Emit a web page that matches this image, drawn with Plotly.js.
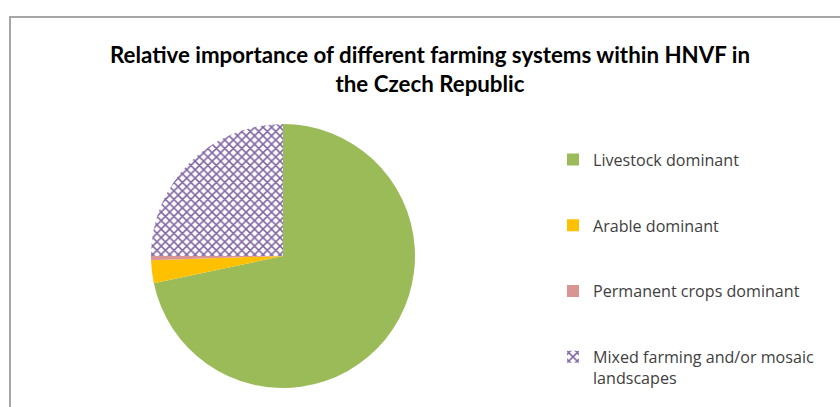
<!DOCTYPE html>
<html><head><meta charset="utf-8">
<script src="https://cdn.plot.ly/plotly-3.0.1.min.js"></script>
<style>html,body{margin:0;padding:0;background:#fff}#chart{width:840px;height:407px}</style>
</head><body><div id="chart"></div>
<script>
const categories = ["Livestock dominant", "Arable dominant", "Permanent crops dominant", "Mixed farming and/or mosaic<br>landscapes"];
const shares = [71.7, 2.8, 0.5, 25.0];
const colors = ["#9BBB59", "#FFC000", "#D99594", "#FFFFFF"];
const patterns = ["", "", "", "x"];
const titleText = "Relative importance of different farming systems within HNVF in<br>the Czech Republic";

const W = 840, H = 407;
const px = v => v / W, py = v => 1 - v / H;

const legendLabels = categories.map((c, i) => i < categories.length - 1 ? c + "<br>&nbsp;<br>&nbsp;" : c);

const trace = {
  type: "pie",
  labels: legendLabels,
  values: shares,
  sort: false,
  direction: "clockwise",
  rotation: 0,
  textinfo: "none",
  hoverinfo: "none",
  marker: {
    colors: colors,
    line: {width: 0},
    pattern: {shape: patterns, fgcolor: "#8064A2", bgcolor: "#FFFFFF", size: 6, solidity: 0.45}
  },
  domain: {x: [px(151), px(415)], y: [py(388), py(124)]}
};

const layout = {
  width: W, height: H,
  margin: {l: 0, r: 0, t: 0, b: 0},
  paper_bgcolor: "#fff",
  font: {family: "'Open Sans', Lato, sans-serif", color: "#404040"},
  title: {text: titleText, x: px(430), xref: "container", xanchor: "center", y: py(63), yref: "container", yanchor: "middle",
          font: {family: "Lato, sans-serif", size: 22.3, color: "#000", weight: "bold"}},
  showlegend: true,
  legend: {x: px(553), y: py(142.5), xanchor: "left", yanchor: "top", valign: "top",
           font: {family: "'Open Sans', sans-serif", size: 16.1, color: "#404040"}, bgcolor: "rgba(0,0,0,0)"},
  shapes: [{type: "rect", xref: "paper", yref: "paper", x0: px(10), x1: px(870), y0: py(440), y1: py(17),
            line: {color: "#A6A6A6", width: 2}, fillcolor: "rgba(0,0,0,0)", layer: "below"}]
};

Plotly.newPlot("chart", [trace], layout, {displayModeBar: false, staticPlot: true});
</script></body></html>
